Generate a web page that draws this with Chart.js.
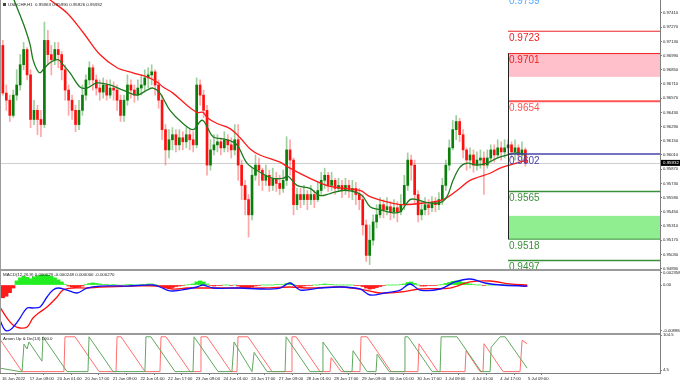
<!DOCTYPE html>
<html><head><meta charset="utf-8">
<script src="https://cdn.jsdelivr.net/npm/chart.js@4/dist/chart.umd.min.js"></script>
<style>html,body{margin:0;padding:0;background:#fff;overflow:hidden}canvas{display:block}</style>
</head><body>
<canvas id="c" width="680" height="385"></canvas>
<script>
// ---------- DATA ----------
const timeLabels = ['16 Jun 2022','17 Jun 09:00','20 Jun 01:00','20 Jun 17:00','21 Jun 09:00','22 Jun 01:00','22 Jun 17:00','23 Jun 09:00','24 Jun 01:00','24 Jun 17:00','27 Jun 09:00','28 Jun 01:00','28 Jun 17:00','29 Jun 09:00','30 Jun 01:00','30 Jun 17:00','1 Jul 09:00','4 Jul 01:00','4 Jul 17:00','5 Jul 09:00'];
const priceTicks = [0.94890,0.95030,0.95170,0.95310,0.95450,0.95590,0.95730,0.95870,0.96010,0.96150,0.96290,0.96430,0.96570,0.96710,0.96850,0.96990,0.97130,0.97270,0.97410];
const macdTicks = [0.002358, 0, -0.008984];
const macdTickLabels = ['0.002358','0.00','-0.008984'];
const aroonTicks = [104.5, 4.5];

const opens = [.9709,.9662,.9655,.9640,.9660,.9670,.9690,.9705,.9680,.9636,.9645,.9636,.9631,.9714,.9700,.9695,.9705,.9700,.9685,.9665,
.9655,.9645,.9631,.9645,.9660,.9675,.9687,.9675,.9667,.9663,.9670,.9660,.9667,.9665,.9655,.9640,.9655,.9670,.9665,.9660,
.9667,.9670,.9677,.9680,.9683,.9670,.9655,.9626,.9606,.9616,.9621,.9611,.9618,.9614,.9621,.9616,.9611,.9670,.9660,.9645,
.9591,.9606,.9611,.9614,.9608,.9616,.9611,.9606,.9616,.9591,.9571,.9557,.9542,.9581,.9591,.9586,.9576,.9581,.9571,.9578,
.9573,.9568,.9576,.9606,.9596,.9552,.9562,.9557,.9562,.9557,.9562,.9557,.9566,.9576,.9581,.9571,.9576,.9568,.9571,.9566,
.9571,.9566,.9568,.9562,.9557,.9532,.9502,.9517,.9535,.9542,.9552,.9547,.9550,.9545,.9549,.9545,.9552,.9571,.9596,.9591,
.9562,.9542,.9547,.9552,.9549,.9554,.9552,.9557,.9571,.9591,.9608,.9626,.9634,.9621,.9606,.9596,.9601,.9591,.9596,.9598,
.9591,.9598,.9606,.9601,.9608,.9604,.9608,.9611,.9604,.9608,.9601,.9606];
const highs = [.9714,.9670,.9660,.9665,.9685,.9700,.9712,.9707,.9685,.9655,.9650,.9645,.9732,.9724,.9709,.9712,.9712,.9703,.9690,.9670,
.9660,.9650,.9655,.9670,.9680,.9693,.9690,.9680,.9675,.9677,.9675,.9675,.9673,.9670,.9660,.9660,.9680,.9675,.9670,.9675,
.9680,.9685,.9687,.9690,.9685,.9675,.9660,.9631,.9626,.9628,.9626,.9626,.9624,.9628,.9626,.9624,.9677,.9675,.9665,.9650,
.9616,.9621,.9621,.9618,.9624,.9621,.9618,.9631,.9631,.9596,.9576,.9562,.9588,.9601,.9598,.9588,.9591,.9586,.9588,.9584,
.9581,.9586,.9619,.9616,.9598,.9568,.9568,.9571,.9566,.9571,.9566,.9574,.9584,.9588,.9584,.9584,.9578,.9578,.9576,.9578,
.9576,.9576,.9574,.9568,.9562,.9537,.9532,.9542,.9552,.9559,.9557,.9559,.9555,.9557,.9555,.9562,.9581,.9603,.9601,.9596,
.9566,.9555,.9559,.9557,.9560,.9559,.9564,.9578,.9596,.9616,.9635,.9640,.9637,.9626,.9608,.9608,.9606,.9604,.9606,.9604,
.9606,.9611,.9611,.9616,.9614,.9616,.9616,.9614,.9616,.9611,.9614,.9608];
const lows = [.9660,.9645,.9634,.9638,.9655,.9665,.9685,.9675,.9628,.9631,.9621,.9619,.9628,.9690,.9680,.9690,.9687,.9675,.9655,.9640,
.9636,.9624,.9626,.9640,.9655,.9670,.9665,.9660,.9655,.9657,.9655,.9657,.9655,.9645,.9634,.9634,.9650,.9657,.9653,.9655,
.9660,.9663,.9667,.9670,.9660,.9647,.9616,.9591,.9598,.9606,.9604,.9606,.9606,.9608,.9606,.9604,.9608,.9650,.9638,.9581,
.9586,.9601,.9604,.9601,.9604,.9604,.9598,.9601,.9576,.9557,.9542,.9520,.9537,.9576,.9571,.9566,.9571,.9565,.9566,.9565,
.9562,.9564,.9571,.9581,.9542,.9547,.9549,.9552,.9547,.9552,.9549,.9555,.9562,.9568,.9565,.9566,.9562,.9565,.9559,.9562,
.9559,.9557,.9552,.9547,.9522,.9496,.9493,.9512,.9529,.9539,.9539,.9542,.9537,.9539,.9535,.9542,.9547,.9566,.9576,.9552,
.9535,.9537,.9542,.9542,.9545,.9545,.9547,.9552,.9566,.9586,.9606,.9616,.9614,.9598,.9586,.9588,.9584,.9586,.9588,.9562,
.9588,.9594,.9594,.9598,.9596,.9598,.9601,.9598,.9596,.9594,.9598,.9590];
const closes = [.9662,.9655,.9640,.9660,.9670,.9690,.9705,.9680,.9636,.9645,.9636,.9631,.9714,.9700,.9695,.9705,.9700,.9685,.9665,.9655,
.9645,.9631,.9645,.9660,.9675,.9687,.9675,.9667,.9663,.9670,.9660,.9667,.9665,.9655,.9640,.9655,.9670,.9665,.9660,.9667,
.9670,.9677,.9680,.9683,.9670,.9655,.9626,.9606,.9616,.9621,.9611,.9618,.9614,.9621,.9616,.9611,.9670,.9660,.9645,.9591,
.9606,.9611,.9614,.9608,.9616,.9611,.9606,.9616,.9591,.9571,.9557,.9542,.9581,.9591,.9586,.9576,.9581,.9571,.9578,.9573,
.9568,.9576,.9606,.9596,.9552,.9562,.9557,.9562,.9557,.9562,.9557,.9566,.9576,.9581,.9571,.9576,.9568,.9571,.9566,.9571,
.9566,.9568,.9562,.9557,.9532,.9502,.9517,.9535,.9542,.9552,.9547,.9550,.9545,.9549,.9545,.9552,.9571,.9596,.9591,.9562,
.9542,.9547,.9552,.9549,.9554,.9552,.9557,.9571,.9591,.9608,.9626,.9634,.9621,.9606,.9596,.9601,.9591,.9596,.9598,.9591,
.9598,.9606,.9601,.9608,.9604,.9608,.9611,.9604,.9608,.9601,.9606,.95932];

// moving averages: [bar index (H1), price]
const fastMA = [[5.8,.9759],[6.9,.9754],[10.4,.9739],[13.3,.9726],[16.2,.9710],[17.9,.9695],[20.2,.9685],[22,.9682],[23.7,.9685],[27.7,.9692],[32.4,.9695],[35.3,.9690],[39.3,.9682],[45.1,.9668],[49.1,.9667],[54.9,.9672],[62.4,.9670],[69.9,.9665],[78,.9660],[83.8,.9665],[87.3,.9667],[91.3,.9662],[97.1,.9645],[104.6,.9632],[110.4,.9626],[114.5,.9634],[116.2,.9635],[118.5,.9629],[122,.9619],[130.1,.9616],[135.8,.9611],[141.6,.9593],[149.1,.9584],[156.6,.9578],[162.4,.9578],[165.3,.9580],[170.5,.9571],[178,.9568],[183.8,.9561],[189.6,.9563],[197.1,.9566],[205.2,.9564],[208.7,.9560],[212.7,.9550],[218.5,.9547],[226,.9544],[230.1,.9545],[235.8,.9557],[239.9,.9557],[245.7,.9554],[253.2,.9554],[257.2,.9560],[260.7,.9576],[264.7,.9589],[268.8,.9593],[274.6,.9591],[280.3,.9593],[286.1,.9598],[291.9,.9601],[297.7,.9603],[302.3,.9601]];
const slowMA = [[24.8,.9759],[27.7,.9754],[37.6,.9741],[46.8,.9722],[56.6,.9700],[66.5,.9687],[75.7,.9682],[83.8,.9678],[89.6,.9673],[93.1,.9668],[98.8,.9662],[106.9,.9650],[112.7,.9643],[116.2,.9643],[118.5,.9638],[124.3,.9632],[131.8,.9627],[137.6,.9618],[143.4,.9607],[149.1,.9601],[160.7,.9594],[165.3,.9589],[178,.9578],[189.6,.9570],[206.9,.9566],[212.7,.9560],[224.3,.9554],[231.8,.9552],[245.7,.9554],[254.9,.9557],[263,.9566],[270.5,.9576],[282.1,.9583],[287.9,.9588],[299.4,.9594],[303.5,.9596]];

// MACD: [bar index, value]
const macdMain = [[-1.2,-0.00684],[1.7,-0.00879],[4.6,-0.00879],[7.5,-0.00781],[10.4,-0.00645],[14.5,-0.00449],[17.9,-0.00449],[22,-0.0043],[26,-0.00234],[29.5,-0.00098],[32.4,-0.00059],[37.6,-0.00098],[43.4,-0.00156],[49.1,-0.00059],[56.6,-0.0002],[72.3,-0.0002],[87.3,0],[91.3,-0.00039],[95.4,-0.00098],[98.8,-0.00117],[106.9,-0.00078],[112.7,-0.00039],[116.2,0],[122,-0.00059],[137.6,-0.00059],[149.1,-0.00078],[160.7,-0.00059],[166.5,0.00039],[172.3,-0.00098],[183.8,-0.00059],[196.2,-0.00039],[206.9,-0.00078],[212.7,-0.00195],[221.4,-0.00156],[230.1,-0.00098],[235.8,0.0002],[241.6,-0.00098],[253.2,-0.00078],[261.8,0.00059],[270.5,0.00117],[279.2,0.00039],[287.9,0],[303.5,-0.0002]];
const macdSignal = [[-1.2,-0.0043],[2.9,-0.00645],[6.4,-0.00781],[10.4,-0.0084],[14.5,-0.0082],[17.9,-0.00645],[22,-0.00527],[26,-0.0043],[31.8,-0.00234],[35.3,-0.00098],[41,-0.00059],[49.1,-0.00059],[56.6,-0.00039],[75.7,-0.0002],[89.6,-0.0002],[98.8,-0.00078],[106.9,-0.00059],[114.5,-0.00059],[137.6,-0.00059],[149.1,-0.00059],[166.5,-0.00039],[178,-0.00059],[196.2,-0.00039],[209.8,-0.00098],[218.5,-0.00156],[230.1,-0.00137],[241.6,-0.00078],[258.9,-0.00059],[270.5,0.00059],[282.1,0.00078],[293.6,0.0002],[303.5,0]];
const macdHist = [-0.0025,-0.0022,-0.0015,-0.0006,0.0008,0.0014,0.0017,0.0015,0.0012,0.0016,
0.0018,0.0019,0.0020,0.0019,0.0017,0.0014,0.0010,0.0006,0.0001,-0.0002,
-0.0004,-0.0005,-0.0004,-0.0002,0.0001,0.0003,0.0004,0.0003,0.0002,0.0001,
0.0001,0,0.0001,0,-0.0001,0,0.0001,0.0001,0,0,
0.0001,0.0001,0.0002,0.0002,0.0001,-0.0001,-0.0003,-0.0005,-0.0006,-0.0005,
-0.0003,-0.0002,-0.0001,0,0.0001,0.0002,0.0006,0.0008,0.0006,0.0002,
-0.0001,-0.0002,-0.0001,-0.0001,0,0,-0.0001,0,-0.0002,-0.0004,
-0.0006,-0.0007,-0.0004,-0.0002,-0.0001,0,0,0,0,0.0001,
0.0001,0.0001,0.0003,0.0004,0.0001,-0.0002,-0.0003,-0.0002,-0.0001,-0.0001,
0,0,0.0001,0.0002,0.0001,0.0001,0,0,0,0,
0,0,-0.0001,-0.0001,-0.0003,-0.0006,-0.0008,-0.0007,-0.0005,-0.0003,
-0.0001,0,0,0,0,0.0001,0.0002,0.0005,0.0006,0.0003,
0,-0.0002,-0.0002,-0.0001,-0.0001,-0.0001,0,0.0001,0.0003,0.0005,
0.0007,0.0008,0.0007,0.0005,0.0003,0.0002,0.0001,0,0,-0.0001,
0,0,0,0.0001,0.0001,0,0,0,-0.0001,-0.0001,
-0.0002,-0.0003];

// Aroon (14): [bar index, value]
const aroonUp = [[-1.2,10],[10.4,0],[11.6,0],[12.7,79],[14.5,65],[15.6,85],[23.1,30],[23.7,100],[37.6,0],[49.7,0],[50.3,100],[64.2,0],[82.6,0],[83.2,100],[86.1,100],[100,0],[110.4,0],[111,100],[124.9,0],[132.9,0],[134.1,85],[144.5,0],[145,0],[145.7,55],[153.2,0],[163.6,0],[164.2,100],[178,0],[185,0],[185.5,85],[197.7,0],[202.3,0],[202.9,60],[211,0],[216.2,0],[216.8,50],[223.7,0],[232.4,0],[232.9,100],[234.7,100],[248.6,0],[253.2,0],[253.8,100],[263,100],[276.9,0],[282.1,0],[282.7,70],[287.9,100],[290.8,100],[303.5,10]];
const aroonDown = [[-1.2,93],[11.6,0],[35.8,0],[36.4,100],[42.2,100],[56.1,0],[65.9,0],[66.5,100],[68.8,100],[82.7,0],[91.3,0],[91.9,100],[94.8,100],[108.7,0],[114.5,0],[115,100],[118.5,100],[132.4,0],[135.8,0],[136.4,100],[142.2,100],[156.1,0],[167.1,0],[167.6,100],[170,100],[183.8,0],[189.6,0],[190.2,40],[196,0],[206.9,0],[207.5,100],[211,100],[224.9,0],[240.4,0],[241,80],[252,0],[267.6,0],[268.2,60],[276.3,0],[278,0],[278.6,80],[289.6,0],[299.4,0],[300.6,90],[303.5,80]];

// horizontal levels and zones
const levelPrices = [0.9759,0.9723,0.9701,0.9654,0.9602,0.9565,0.9518,0.9497];
const levelLabels = ['0.9759','0.9723','0.9701','0.9654','0.9602','0.9565','0.9518','0.9497'];
const zoneTops = [0.9701, 0.9541];
const zoneBottoms = [0.9678, 0.9518];
const levelStartBar = 292.5;
const lastPrice = 0.95932;
const headerText = 'USDCHF,H1  0.95963 0.95990 0.95926 0.95932';
const macdText = 'MACD(12,26,9) 0.000029 -0.000248 0.000000 -0.000270';
const aroonText = 'Aroon Up & Dn(14) 100.0';

// ---------- STYLE ----------
const FONT = 'Liberation Sans';
const levelColors = ['#55aaff','#ee2222','#ee2222','#ff5555','#4444aa','#3a8f3a','#3a8f3a','#3a8f3a'];
const levelWidths = [1,1,1,2,1.5,1.5,1,1.5];
const zoneColors = ['#ffc0cb','#90ee90'];

const toXY = a => a.map(p => ({x:p[0], y:p[1]}));
const candleX = i => 2*i + 0.5;
const wickData = highs.map((h,i)=>({x:candleX(i), y:[lows[i], h]}));
const bodyData = opens.map((o,i)=>({x:candleX(i), y:[o, closes[i]]}));
const up = opens.map((o,i)=>closes[i] >= o);
const histData = macdHist.map((v,i)=>({x:candleX(i), y:v}));

const overlay = {
  id:'overlay',
  beforeDatasetsDraw(chart){
    const {ctx, chartArea, scales} = chart; const x = scales.x, y = scales.y;
    ctx.save();
    const x0 = x.getPixelForValue(levelStartBar);
    zoneTops.forEach((t,k)=>{
      const y0 = y.getPixelForValue(t), y1 = y.getPixelForValue(zoneBottoms[k]);
      ctx.fillStyle = zoneColors[k];
      ctx.fillRect(x0, y0, chartArea.right - x0, y1 - y0);
    });
    const py = Math.round(y.getPixelForValue(lastPrice)) + 0.5;
    ctx.strokeStyle = '#cfcfcf'; ctx.lineWidth = 1;
    ctx.beginPath(); ctx.moveTo(chartArea.left, py); ctx.lineTo(chartArea.right, py); ctx.stroke();
    ctx.restore();
  },
  afterDatasetsDraw(chart){
    const {ctx, chartArea, scales} = chart; const x = scales.x, y = scales.y;
    ctx.save();
    ctx.beginPath(); ctx.rect(chartArea.left, 0, chartArea.right - chartArea.left, y.bottom); ctx.clip();
    const x0 = Math.round(x.getPixelForValue(levelStartBar));
    levelPrices.forEach((p,k)=>{
      const py = y.getPixelForValue(p);
      ctx.strokeStyle = levelColors[k]; ctx.lineWidth = levelWidths[k];
      ctx.beginPath(); ctx.moveTo(x0, py); ctx.lineTo(chartArea.right, py); ctx.stroke();
      ctx.fillStyle = levelColors[k];
      ctx.font = '10px "' + FONT + '"'; ctx.textBaseline = 'top'; ctx.textAlign = 'left';
      ctx.fillText(levelLabels[k], x0 + 1, py + 2);
    });
    ctx.strokeStyle = '#222'; ctx.lineWidth = 1;
    ctx.beginPath(); ctx.moveTo(x0 + 0.5, y.getPixelForValue(zoneTops[0])); ctx.lineTo(x0 + 0.5, y.getPixelForValue(zoneBottoms[1])); ctx.stroke();
    ctx.restore();
  },
  afterDraw(chart){
    const {ctx, chartArea, scales} = chart;
    ctx.save();
    ctx.fillStyle = '#9a9a9a';
    ctx.fillRect(0, Math.round(scales.y.bottom) - 1, chartArea.right, 2);
    ctx.fillRect(0, Math.round(scales.yMacd.bottom) - 1, chartArea.right, 2);
    ctx.fillRect(0, 0, 1, chartArea.bottom);
    ctx.font = '4.4px "' + FONT + '"'; ctx.textBaseline = 'middle'; ctx.textAlign = 'left';
    ctx.fillStyle = '#444'; ctx.fillRect(3, 3, 3, 3);
    ctx.fillStyle = '#222';
    ctx.fillText(headerText, 8, 5);
    ctx.fillText(macdText, 3, scales.yMacd.top + 5);
    ctx.fillText(aroonText, 3, scales.yAroon.top + 5);
    const py = scales.y.getPixelForValue(lastPrice);
    ctx.fillStyle = '#000'; ctx.fillRect(chartArea.right + 1, py - 3, 19, 6);
    ctx.fillStyle = '#fff'; ctx.fillText(lastPrice.toFixed(5), chartArea.right + 3, py);
    ctx.restore();
  }
};

const yTickFont = {size:4.2, family:FONT};
const fixW = s => { s.width = 20; s.paddingTop = 0; s.paddingBottom = 0; };

new Chart(document.getElementById('c'), {
  type:'line',
  data:{datasets:[
    {type:'line', data:toXY(fastMA), borderColor:'#1c7a1c', borderWidth:1.3, pointRadius:0, tension:0.35, xAxisID:'x', yAxisID:'y', order:0},
    {type:'line', data:toXY(slowMA), borderColor:'#ff1a1a', borderWidth:1.3, pointRadius:0, tension:0.35, xAxisID:'x', yAxisID:'y', order:1},
    {type:'bar', data:bodyData, backgroundColor:up.map(u=>u?'#0b7d0b':'#ff1010'), barThickness:2, grouped:false, minBarLength:1, xAxisID:'x', yAxisID:'y', order:2},
    {type:'bar', data:wickData, backgroundColor:up.map(u=>u?'rgba(40,150,40,0.45)':'rgba(255,60,60,0.45)'), barThickness:1, grouped:false, xAxisID:'x', yAxisID:'y', order:3},
    {type:'line', data:toXY(macdMain), borderColor:'#1010ff', borderWidth:1.3, pointRadius:0, tension:0.35, xAxisID:'x', yAxisID:'yMacd', order:4},
    {type:'line', data:toXY(macdSignal), borderColor:'#ff1010', borderWidth:1.3, pointRadius:0, tension:0.35, xAxisID:'x', yAxisID:'yMacd', order:5},
    {type:'bar', data:histData, backgroundColor:macdHist.map(v=>v>=0?'#22ee22':'#ff1a1a'), barThickness:3.5, grouped:false, xAxisID:'x', yAxisID:'yMacd', order:6},
    {type:'line', data:toXY(aroonUp), borderColor:'#5fa85f', borderWidth:1, pointRadius:0, tension:0, xAxisID:'x', yAxisID:'yAroon', order:7},
    {type:'line', data:toXY(aroonDown), borderColor:'#ff6e6e', borderWidth:1, pointRadius:0, tension:0, xAxisID:'x', yAxisID:'yAroon', order:8}
  ]},
  options:{
    responsive:false, animation:false, devicePixelRatio:1, events:[],
    layout:{padding:0},
    plugins:{legend:{display:false}, tooltip:{enabled:false}},
    scales:{
      x:{type:'linear', position:'bottom', min:-1.156, max:380.3, offset:false,
         grid:{display:true, drawOnChartArea:false, tickLength:2, color:'#808080'},
         border:{display:true, color:'#808080'},
         afterBuildTicks:s=>{ s.ticks = timeLabels.map((_,k)=>({value:k*16})); },
         afterFit:s=>{ s.height = 12; s.paddingLeft = 0; s.paddingRight = 0; },
         ticks:{autoSkip:false, maxRotation:0, align:'start', padding:1, font:{size:4.2, family:FONT}, color:'#222', callback:(v,i)=>timeLabels[i]}},
      y:{type:'linear', position:'right', stack:'panes', stackWeight:270, min:0.94876, max:0.97538,
         grid:{display:true, drawOnChartArea:false, tickLength:2, color:'#808080'},
         border:{display:true, color:'#808080'},
         afterBuildTicks:s=>{ s.ticks = priceTicks.map(v=>({value:v})); },
         afterFit:fixW,
         ticks:{autoSkip:false, padding:1, font:yTickFont, color:'#222', callback:v=>v.toFixed(5)}},
      yMacd:{type:'linear', position:'right', stack:'panes', stackWeight:64, min:-0.00957, max:0.00293,
         grid:{display:true, drawOnChartArea:false, tickLength:2, color:'#808080'},
         border:{display:true, color:'#808080'},
         afterBuildTicks:s=>{ s.ticks = macdTicks.map(v=>({value:v})); },
         afterFit:fixW,
         ticks:{autoSkip:false, padding:1, font:yTickFont, color:'#222', callback:(v,i)=>macdTickLabels[i]}},
      yAroon:{type:'linear', position:'right', stack:'panes', stackWeight:39, min:-4, max:108,
         grid:{display:true, drawOnChartArea:false, tickLength:2, color:'#808080'},
         border:{display:true, color:'#808080'},
         afterBuildTicks:s=>{ s.ticks = aroonTicks.map(v=>({value:v})); },
         afterFit:fixW,
         ticks:{autoSkip:false, padding:1, font:yTickFont, color:'#222', callback:v=>v.toFixed(1)}}
    }
  },
  plugins:[overlay]
});
</script>
</body></html>
